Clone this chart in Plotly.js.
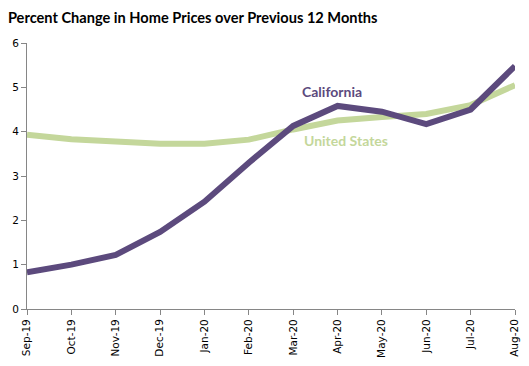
<!DOCTYPE html>
<html><head><meta charset="utf-8">
<script src="https://cdn.plot.ly/plotly-3.0.1.min.js"></script>
<style>html,body{margin:0;padding:0;background:#fff}#chart{width:529px;height:366px}</style>
</head><body><div id="chart"></div>
<script>
const months = ["Sep-19","Oct-19","Nov-19","Dec-19","Jan-20","Feb-20","Mar-20","Apr-20","May-20","Jun-20","Jul-20","Aug-20"];
const california = [0.83, 1.0, 1.22, 1.74, 2.42, 3.3, 4.13, 4.58, 4.45, 4.17, 4.5, 5.48];
const unitedStates = [3.93, 3.83, 3.78, 3.73, 3.73, 3.82, 4.05, 4.25, 4.33, 4.4, 4.6, 5.05];
const purple = "#5c4a7d", green = "#c4d79b";
const traces = [
  {x: months, y: unitedStates, type: "scatter", mode: "lines", line: {color: green, width: 6}, name: "United States"},
  {x: months, y: california, type: "scatter", mode: "lines", line: {color: purple, width: 6}, name: "California"}
];
const axisFont = {family: "DejaVu Sans, Verdana, sans-serif", size: 10.5, color: "#000"};
const labelFont = {family: "Lato, 'Open Sans', sans-serif", size: 14};
const layout = {
  width: 529, height: 366, showlegend: false,
  paper_bgcolor: "#fff", plot_bgcolor: "#fff",
  margin: {l: 27, r: 14, t: 43, b: 57},
  title: {text: "<b>Percent Change in Home Prices over Previous 12 Months</b>", x: 0.015, xanchor: "left", y: 0.95, yanchor: "middle",
          font: {family: "Lato, 'Open Sans', sans-serif", size: 14.6, color: "#000"}},
  xaxis: {type: "category", range: [0, 11], showgrid: false, zeroline: false, showline: true, linecolor: "#868686", linewidth: 1,
          ticks: "outside", ticklen: 5, tickcolor: "#868686", tickangle: -90, tickfont: axisFont},
  yaxis: {range: [0, 6], dtick: 1, showgrid: false, zeroline: false, showline: true, linecolor: "#868686", linewidth: 1,
          ticks: "outside", ticklen: 5, tickcolor: "#868686", tickfont: axisFont},
  annotations: [
    {text: "<b>California</b>", x: 6.88, y: 4.9, xref: "x", yref: "y", showarrow: false, font: Object.assign({color: purple}, labelFont)},
    {text: "<b>United States</b>", x: 7.19, y: 3.79, xref: "x", yref: "y", showarrow: false, font: Object.assign({color: green}, labelFont)}
  ]
};
Plotly.newPlot("chart", traces, layout, {staticPlot: true});
</script></body></html>
